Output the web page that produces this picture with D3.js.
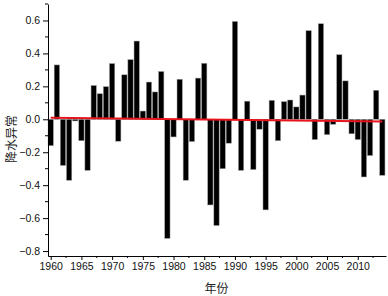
<!DOCTYPE html>
<html>
<head>
<meta charset="utf-8">
<script src="https://cdn.jsdelivr.net/npm/d3@7/dist/d3.min.js"></script>
<style>
  html, body { margin: 0; padding: 0; background: #fff; }
  svg { display: block; }
  .tick text { font-family: "Liberation Sans", Arial, sans-serif; }
</style>
</head>
<body>
<div id="chart"></div>
<script>
// years and precipitation anomaly
const years = d3.range(1960, 2015);
const anomaly = [
  -0.16, 0.33, -0.28, -0.37, -0.01, -0.13, -0.31, 0.205, 0.155, 0.198,
  0.338, -0.133, 0.27, 0.362, 0.475, 0.05, 0.226, 0.166, 0.29, -0.723,
  -0.107, 0.243, -0.37, -0.135, 0.25, 0.34, -0.52, -0.645, -0.30, -0.145,
  0.594, -0.31, 0.11, -0.305, -0.06, -0.55, 0.115, -0.13, 0.107, 0.117,
  0.075, 0.147, 0.538, -0.123, 0.58, -0.093, -0.03, 0.392, 0.233, -0.088,
  -0.123, -0.35, -0.22, 0.176, -0.34
];
// red trend line end points (year, value)
const trendYears = [1960, 2014];
const trendValues = [0.009, -0.013];

const yTicks = [-0.8, -0.6, -0.4, -0.2, 0.0, 0.2, 0.4, 0.6];
const yMinor = [-0.7, -0.5, -0.3, -0.1, 0.1, 0.3, 0.5, 0.7];
const xTicks = [1960, 1965, 1970, 1975, 1980, 1985, 1990, 1995, 2000, 2005, 2010];
const xMinor = [1962.5, 1967.5, 1972.5, 1977.5, 1982.5, 1987.5, 1992.5, 1997.5, 2002.5, 2007.5, 2012.5];

const width = 388;
const height = 296;
const margin = ({top: 4, right: 2, bottom: 40, left: 48});

const svg = d3.select("#chart")
    .append("svg")
    .attr("width", width)
    .attr("height", height)
    .attr("viewBox", [0, 0, width, height]);

const x = d3.scaleLinear()
    .domain([1959.56, 2014.6])
    .range([margin.left, width - margin.right]);

const y = d3.scaleLinear()
    .domain([-0.83, 0.7])
    .range([height - margin.bottom, margin.top]);

const step = x(1961) - x(1960);
const barW = step * 0.86;

// bars
svg.append("g")
  .selectAll("rect")
  .data(years.map((yr, i) => ({year: yr, value: anomaly[i]})))
  .join("rect")
    .attr("x", d => x(d.year) - barW / 2)
    .attr("width", barW)
    .attr("y", d => y(Math.max(0, d.value)))
    .attr("height", d => Math.abs(y(d.value) - y(0)))
    .attr("fill", "#000")
    .attr("stroke", "#999")
    .attr("stroke-width", 0.5);

// trend line
svg.append("line")
    .attr("x1", x(trendYears[0]))
    .attr("x2", x(trendYears[1]))
    .attr("y1", y(trendValues[0]))
    .attr("y2", y(trendValues[1]))
    .attr("stroke", "#e8141c")
    .attr("stroke-width", 2);

// y axis
const yAxis = svg.append("g")
    .attr("transform", `translate(${margin.left},0)`)
    .call(d3.axisLeft(y).tickValues(yTicks).tickFormat(d3.format(".1f")).tickSize(5).tickPadding(3).tickSizeOuter(0));
yAxis.append("g")
  .selectAll("line")
  .data(yMinor)
  .join("line")
    .attr("x1", -3).attr("x2", 0)
    .attr("y1", d => y(d)).attr("y2", d => y(d))
    .attr("stroke", "#000");

// x axis
const xAxis = svg.append("g")
    .attr("transform", `translate(0,${height - margin.bottom})`)
    .call(d3.axisBottom(x).tickValues(xTicks).tickFormat(d3.format("d")).tickSize(4).tickPadding(3).tickSizeOuter(0));
xAxis.append("g")
  .selectAll("line")
  .data(xMinor)
  .join("line")
    .attr("x1", d => x(d)).attr("x2", d => x(d))
    .attr("y1", 0).attr("y2", 2)
    .attr("stroke", "#000");

svg.selectAll(".tick text")
    .attr("font-size", 10.5)
    .attr("fill", "#111");

// axis titles
svg.append("text")
    .attr("x", x(1987))
    .attr("y", 293)
    .attr("text-anchor", "middle")
    .attr("font-family", "'Noto Sans CJK SC', sans-serif")
    .attr("font-size", 12)
    .attr("fill", "#222")
    .text("年份");

svg.append("text")
    .attr("transform", `translate(16,${y(-0.12)}) rotate(-90)`)
    .attr("text-anchor", "middle")
    .attr("font-family", "'Noto Sans CJK SC', sans-serif")
    .attr("font-size", 12)
    .attr("fill", "#222")
    .text("降水异常");
</script>
</body>
</html>
